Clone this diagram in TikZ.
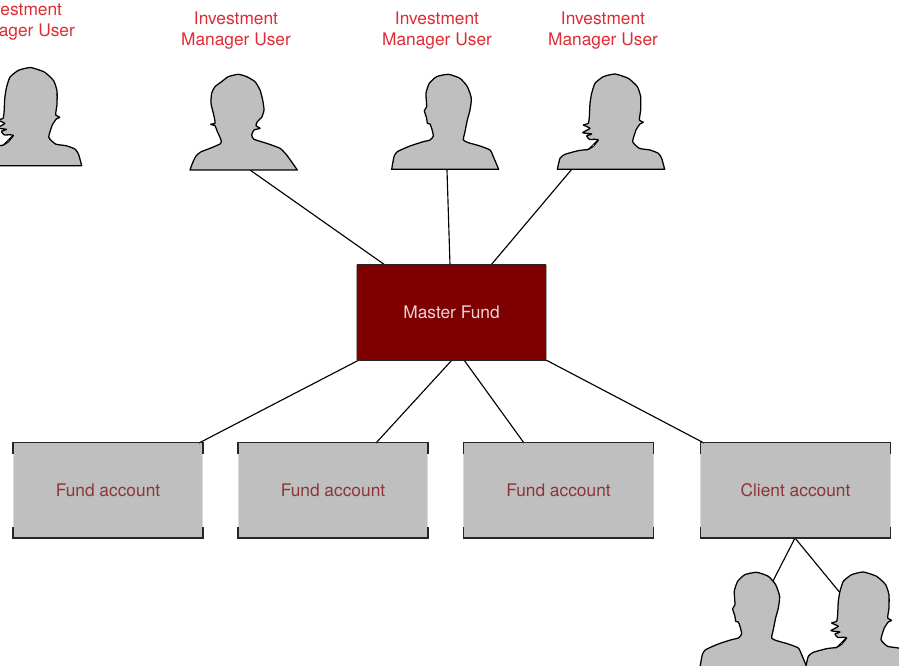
\documentclass[tikz,border=0pt]{standalone}
\usepackage{fontspec}
\setmainfont{TeX Gyre Heros}
\definecolor{boxgray}{HTML}{BFBFBF}
\definecolor{mfred}{HTML}{7F0000}
\definecolor{lblred}{HTML}{DE2C34}
\definecolor{acctxt}{HTML}{8E3438}
\definecolor{mftxt}{HTML}{EAD4D4}
\tikzset{
  lbl/.style={text=lblred,font=\fontsize{13}{15.75}\selectfont,align=center,inner sep=0pt},
  acct/.style={fill=boxgray,minimum width=141.9pt,minimum height=71.25pt,inner sep=0pt,text=acctxt,font=\fontsize{13}{15}\selectfont},
  master/.style={fill=mfred,minimum width=141.9pt,minimum height=71.25pt,inner sep=0pt,text=mftxt,font=\fontsize{13}{15}\selectfont},
  conn/.style={draw=black,line width=.85pt},
  sil/.style={fill=boxgray,draw=black,line width=.95pt,line join=round},
  edgeline/.style={draw=black!85,line width=1.1pt},
  zoomscale/.style={x=.25pt,y=-.25pt}
}
\newcommand{\silWomanA}[1]{\begin{scope}[shift={#1},zoomscale]
\draw[sil] plot[smooth,tension=.35] coordinates {(30,330)(38,308)(48,288)(62,276)(90,265)(120,252)(124,243)(118,228)(110,210)(105,197)(92,193)(105,190)(104,178)(100,160)(93,130)(95,100)(105,80)(125,65)(145,50)(175,43)(200,50)(225,65)(240,90)(248,120)(252,150)(245,172)(232,185)(228,197)(240,205)(222,210)(215,225)(222,238)(260,250)(300,265)(320,285)(352,330)} -- cycle;
\end{scope}}
\newcommand{\silMan}[1]{\begin{scope}[shift={#1},zoomscale]
\draw[sil] plot[smooth,tension=.35] coordinates {(35,328)(42,290)(52,275)(90,258)(130,245)(150,240)(160,228)(155,205)(150,192)(142,190)(140,175)(133,152)(140,140)(138,100)(148,70)(170,50)(205,43)(240,55)(262,80)(274,115)(270,150)(262,180)(255,215)(250,240)(265,248)(300,258)(330,270)(340,290)(356,328)} -- cycle;
\end{scope}}
\newcommand{\silWomanB}[2][1]{\begin{scope}[shift={#2},scale=#1,zoomscale]
\draw[sil] plot[smooth,tension=.3] coordinates {(22,328)(30,295)(45,283)(85,272)(115,268)(130,258)(145,240)(135,238)(118,238)(110,228)(125,222)(98,218)(120,205)(100,195)(115,190)(118,170)(120,130)(125,100)(135,70)(160,50)(195,42)(235,55)(262,80)(272,110)(272,150)(268,180)(280,187)(270,192)(258,210)(248,245)(268,265)(300,270)(325,280)(335,295)(344,328)} -- cycle;
\draw[fill=white,draw=black,line width=.6pt] (116,267) -- (140,243) -- (132,258) -- cycle;
\end{scope}}
\begin{document}
\begin{tikzpicture}[x=.75pt,y=-.75pt]
\useasboundingbox (0,0) rectangle (899,666);
\clip (0,0) rectangle (899,666);
\fill[white] (0,0) rectangle (899,666);
% nodes
\node[master] (mf) at (451.5,312.5) {Master Fund};
\node[acct] (f1) at (108,490.3) {Fund account};
\node[acct] (f2) at (333,490.3) {Fund account};
\node[acct] (f3) at (558.5,490.3) {Fund account};
\node[acct] (c1) at (795.5,490.3) {Client account};
% labels
\node[lbl] (l0) at (20,22) {Investment\\Manager User};
\node[lbl] (l1) at (236,30.5) {Investment\\Manager User};
\node[lbl] (l2) at (437,30.5) {Investment\\Manager User};
\node[lbl] (l3) at (603,30.5) {Investment\\Manager User};
% connector ends
\coordinate (u1) at (250,170);
\coordinate (u2) at (447,170);
\coordinate (u3) at (572,169);
\coordinate (mt1) at (385,265);
\coordinate (mt2) at (450,265);
\coordinate (mt3) at (491,265);
\coordinate (mb1) at (359,360);
\coordinate (mb2) at (452,360);
\coordinate (mb3) at (464,360);
\coordinate (mb4) at (546,360);
\coordinate (t1) at (199,443);
\coordinate (t2) at (376,443);
\coordinate (t3) at (524,443);
\coordinate (t4) at (704,443);
\coordinate (cb) at (795,538);
\coordinate (h1) at (773,581);
\coordinate (h2) at (841,594);
% connectors
\draw[conn] (u1) -- (mt1);
\draw[conn] (u2) -- (mt2);
\draw[conn] (u3) -- (mt3);
\draw[conn] (mb1) -- (t1);
\draw[conn] (mb2) -- (t2);
\draw[conn] (mb3) -- (t3);
\draw[conn] (mb4) -- (t4);
\draw[conn] (cb) -- (h1);
\draw[conn] (cb) -- (h2);
% box edges
\draw[draw=black!35,line width=.6pt] (mf.north west) -- (mf.south west) (mf.north east) -- (mf.south east);
\draw[edgeline] (mf.north west) -- (mf.north east);
\draw[edgeline] (mf.south west) -- (mf.south east);
\foreach \b in {f1,f2,f3,c1}{
  \draw[draw=white!85!black,line width=.6pt] (\b.north west) -- (\b.south west) (\b.north east) -- (\b.south east);
  \draw[edgeline,line join=miter] (\b.north west) ++(0,11) -- (\b.north west) -- (\b.north east) -- ++(0,11);
  \draw[edgeline,line join=miter] (\b.south west) ++(0,-11) -- (\b.south west) -- (\b.south east) -- ++(0,-11);
}
% silhouettes
\silWomanB[1.03]{(-36.4,53.1)}
\silWomanA{(180,60)}
\silMan{(380,60)}
\silWomanB{(550,60)}
\silMan{(688.3,558)}
\silWomanB{(798.3,558)}
\end{tikzpicture}
\end{document}
